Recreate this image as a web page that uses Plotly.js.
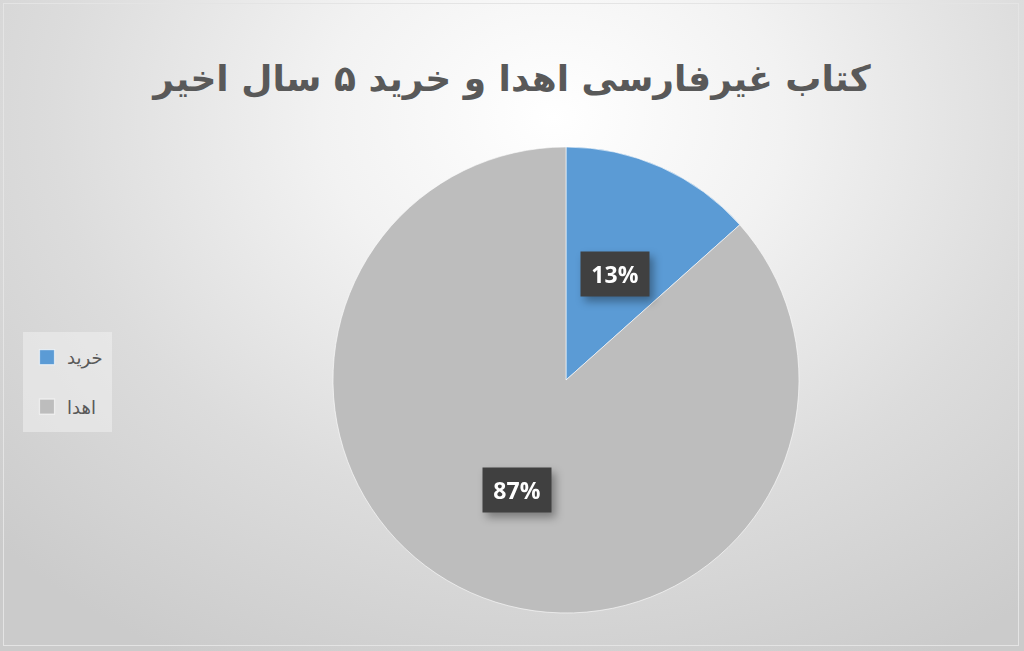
<!DOCTYPE html>
<html>
<head>
<meta charset="utf-8">
<script src="https://cdn.plot.ly/plotly-3.0.1.min.js"></script>
<style>
html, body { margin: 0; padding: 0; }
body {
  width: 1024px; height: 651px; overflow: hidden;
  background: #d2d2d2;
}
#frame {
  position: absolute; left: 0; top: 0; width: 1024px; height: 651px;
  background: radial-gradient(ellipse 75% 95% at 54% 18%, #ffffff 0%, #f2f2f2 30%, #dcdcdc 65%, #cbcbcb 100%);
}
#border {
  position: absolute; left: 3px; top: 3px; width: 1016px; height: 643px;
  border: 1px solid #e4e4e4; box-sizing: border-box; pointer-events: none;
}
#chart { position: absolute; left: 0; top: 0; width: 1024px; height: 651px; }
</style>
</head>
<body>
<div id="frame"></div>
<div id="chart"></div>
<div id="border"></div>
<script>
// Pie data
var labels = ['خرید', 'اهدا'];
var values = [13.4, 86.6];
var colors = ['#5b9bd5', '#bdbdbd'];
var chartTitle = 'کتاب غیرفارسی اهدا و خرید ۵ سال اخیر';

var W = 1024, H = 651;
// pie placement in pixels
var cxPx = 566, cyPx = 380, rPx = 233;
var dom = {
  x: [(cxPx - rPx) / W, (cxPx + rPx) / W],
  y: [(H - cyPx - rPx) / H, (H - cyPx + rPx) / H]
};

// label boxes sit at the middle angle of each slice, half way out
var total = values.reduce(function(a, b){ return a + b; }, 0);
var annotations = [];
var start = 0;
for (var i = 0; i < values.length; ++i) {
  var frac = values[i] / total;
  var mid = (start + frac / 2) * 2 * Math.PI;
  start += frac;
  var px = cxPx + 0.51 * rPx * Math.sin(mid);
  var py = cyPx - 0.51 * rPx * Math.cos(mid);
  annotations.push({
    x: px / W, y: 1 - (py + 2) / H, xref: 'paper', yref: 'paper',
    text: '<b>' + Math.round(frac * 100) + '%</b>',
    showarrow: false,
    font: {family: 'Open Sans, sans-serif', size: 23, color: '#ffffff'},
    bgcolor: '#404040',
    width: 56, height: 32, borderpad: 6,
    xanchor: 'center', yanchor: 'middle'
  });
}

var data = [{
  type: 'pie',
  labels: labels,
  values: values,
  marker: {colors: colors, line: {color: 'rgba(255,255,255,0.6)', width: 1}},
  sort: false,
  direction: 'clockwise',
  rotation: 0,
  textinfo: 'none',
  hoverinfo: 'label+percent',
  domain: dom
}];

var layout = {
  width: W, height: H,
  margin: {l: 0, r: 0, t: 0, b: 0},
  paper_bgcolor: 'rgba(0,0,0,0)',
  plot_bgcolor: 'rgba(0,0,0,0)',
  title: {
    text: '<b>' + chartTitle + '</b>',
    font: {family: 'DejaVu Sans, sans-serif', size: 36, color: '#595959'},
    x: 0.5, xanchor: 'center',
    y: 1 - 78 / H, yanchor: 'middle'
  },
  showlegend: true,
  legend: {
    x: 23 / W, y: 1 - 332 / H, xanchor: 'left', yanchor: 'top',
    bgcolor: 'rgba(240,240,240,0.55)',
    font: {family: 'DejaVu Sans, sans-serif', size: 18, color: '#595959'},
    traceorder: 'normal'
  },
  annotations: annotations
};

Plotly.newPlot('chart', data, layout, {displayModeBar: false, staticPlot: true}).then(function(){
  document.querySelectorAll('#chart .annotation').forEach(function(a){
    a.style.filter = 'drop-shadow(4px 5px 4px rgba(0,0,0,0.35))';
  });
  // spread the legend entries apart like the original
  var pad = 7, gap = 23;
  var items = document.querySelectorAll('#chart .legend .traces');
  items.forEach(function(t, k){
    var m = /translate\(([-\d.]+),\s*([-\d.]+)\)/.exec(t.getAttribute('transform') || '');
    var tx = m ? +m[1] : 0, ty = m ? +m[2] : 0;
    t.setAttribute('transform', 'translate(' + (tx + 4) + ',' + (ty + pad + k * gap) + ')');
    var sym = t.querySelector('.legendpoints path');
    if (sym) sym.setAttribute('transform', (sym.getAttribute('transform') || '') + ' scale(1.25)');
  });
  var sb = document.querySelector('#chart .legend .scrollbox');
  if (sb) sb.removeAttribute('clip-path');
  var bg = document.querySelector('#chart .legend rect.bg');
  if (bg) {
    bg.setAttribute('height', +bg.getAttribute('height') + 2 * pad + (items.length - 1) * gap);
    bg.setAttribute('width', +bg.getAttribute('width') + 8);
  }
});
</script>
</body>
</html>
